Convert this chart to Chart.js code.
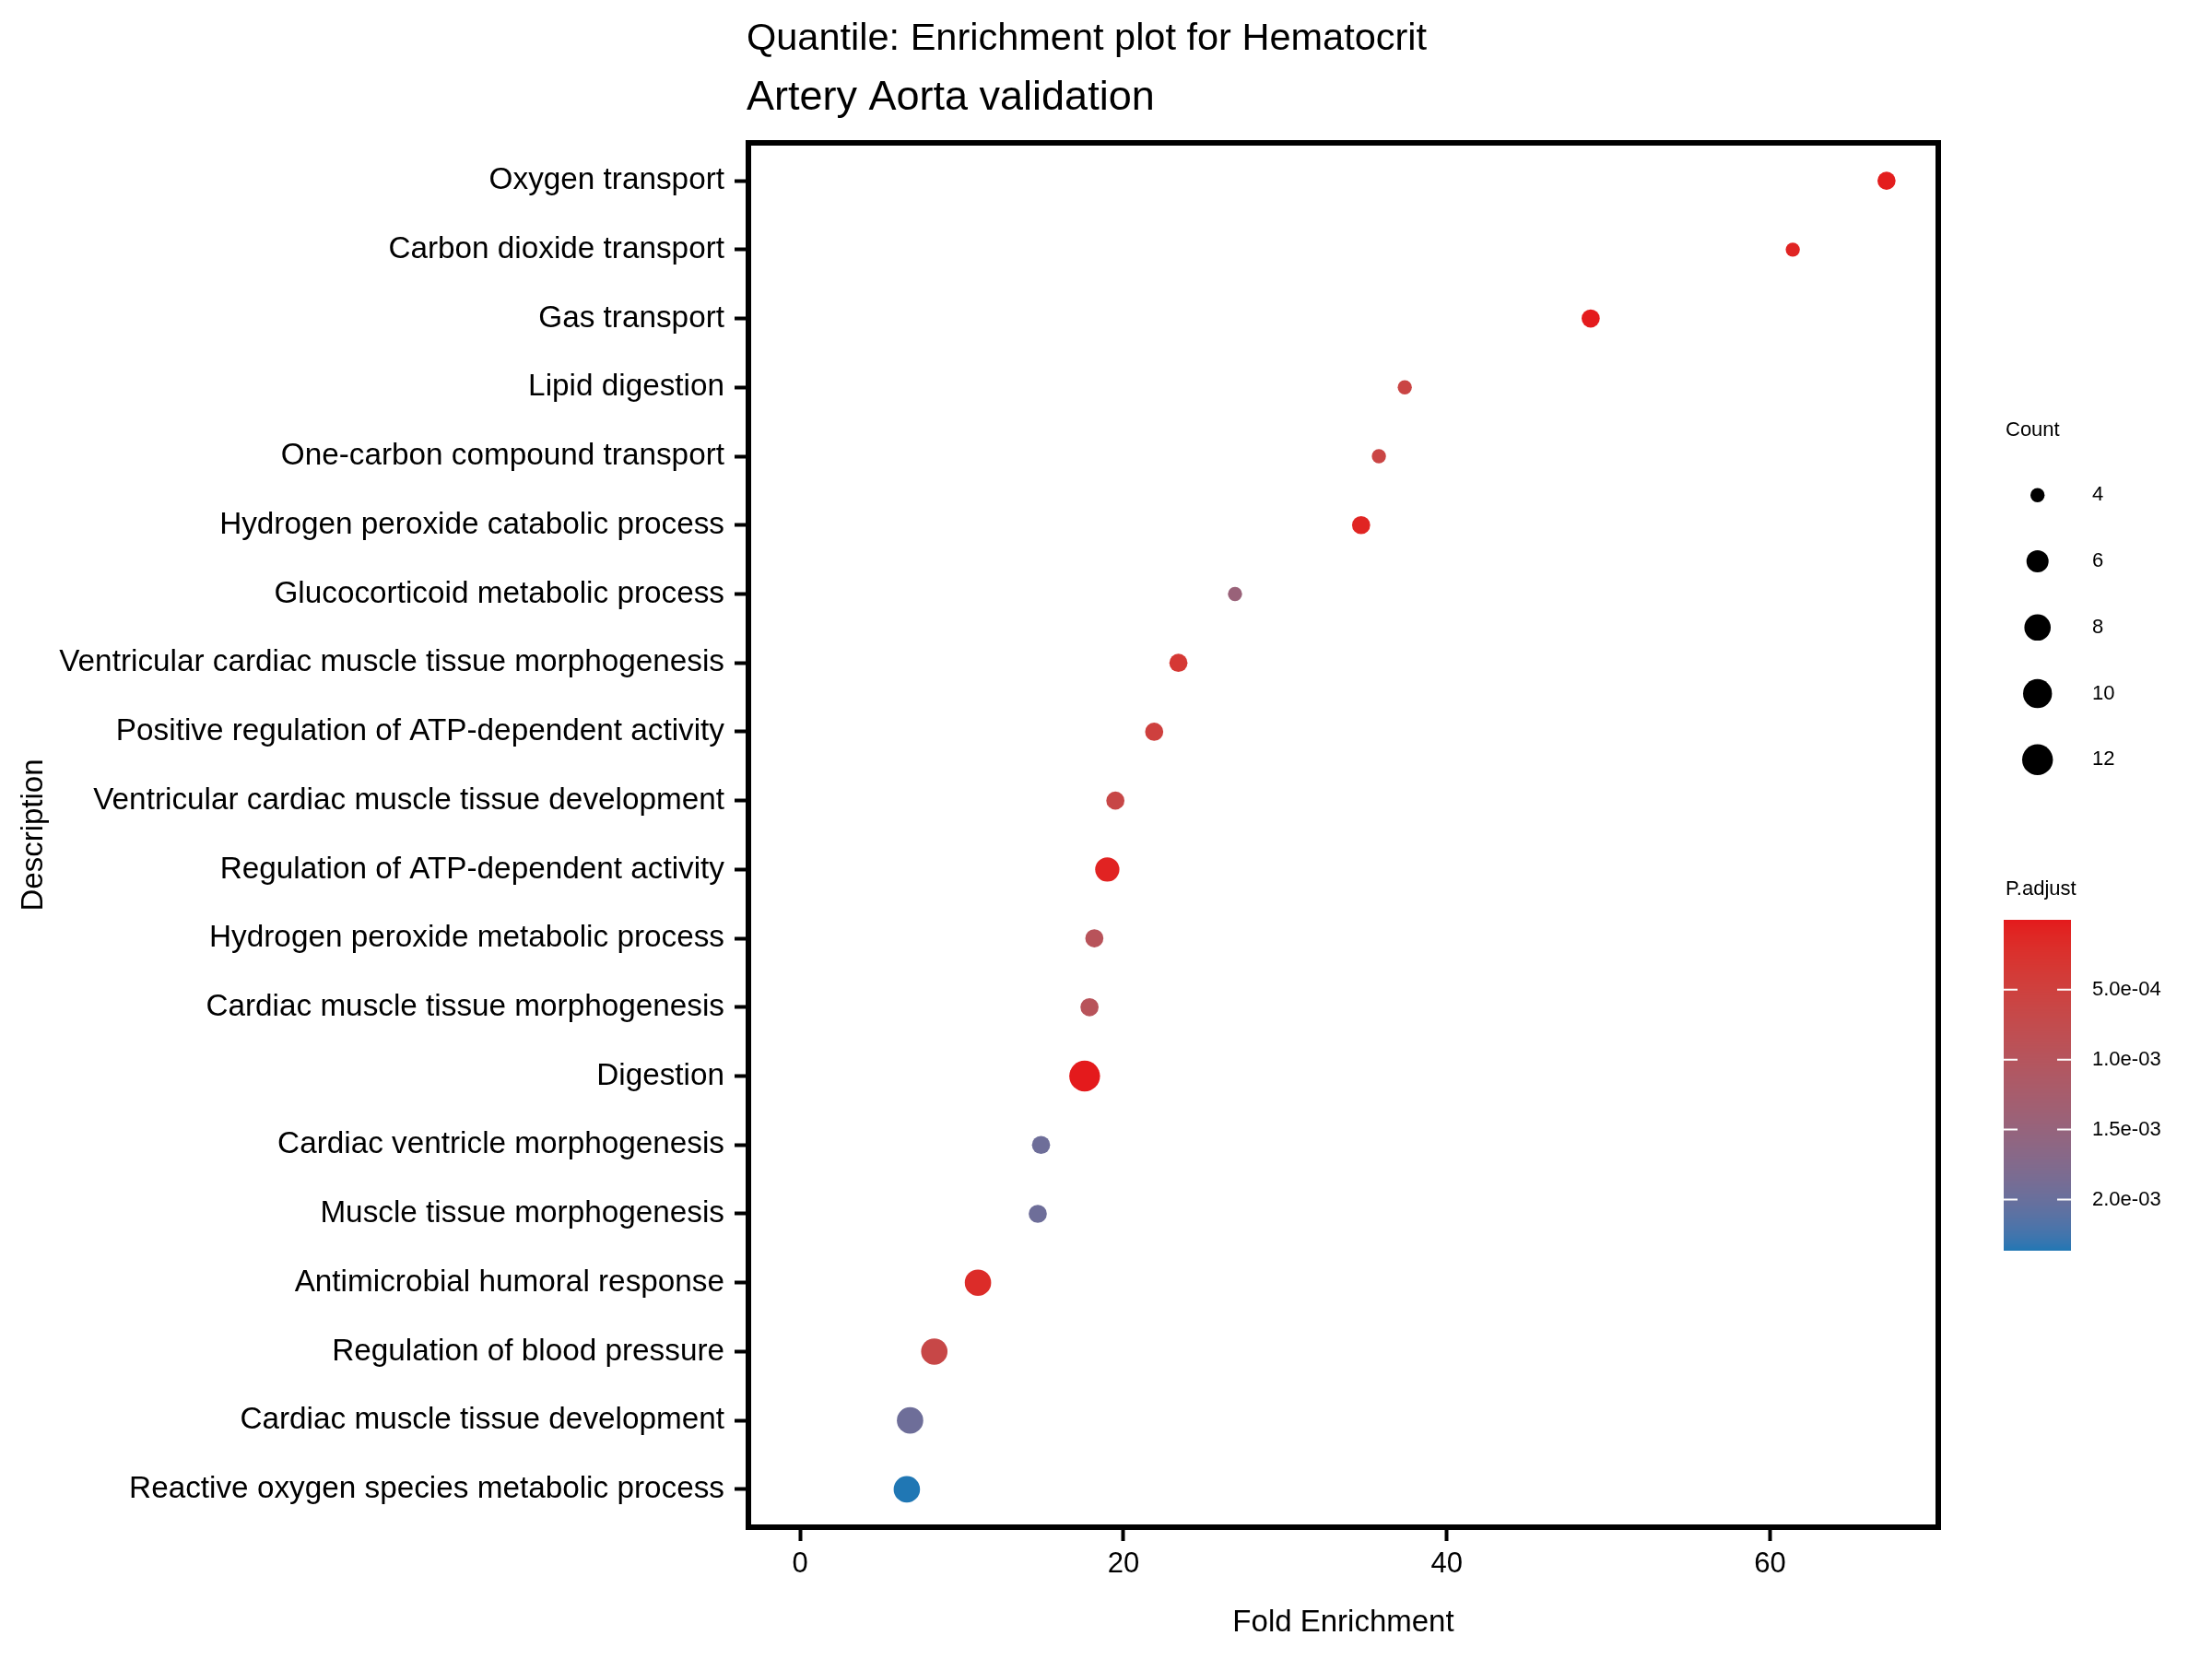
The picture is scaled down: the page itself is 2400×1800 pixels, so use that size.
<!DOCTYPE html>
<html>
<head>
<meta charset="utf-8">
<script src="https://cdn.jsdelivr.net/npm/chart.js@4.4.1/dist/chart.umd.min.js"></script>
<style>
  html, body { margin: 0; padding: 0; background: #fff; }
  #wrap { width: 2400px; height: 1800px; }
</style>
</head>
<body>
<div id="wrap"><canvas id="plot" width="2400" height="1800"></canvas></div>
<script>
// enrichment terms, top to bottom
const descriptions = [
    "Oxygen transport",
    "Carbon dioxide transport",
    "Gas transport",
    "Lipid digestion",
    "One-carbon compound transport",
    "Hydrogen peroxide catabolic process",
    "Glucocorticoid metabolic process",
    "Ventricular cardiac muscle tissue morphogenesis",
    "Positive regulation of ATP-dependent activity",
    "Ventricular cardiac muscle tissue development",
    "Regulation of ATP-dependent activity",
    "Hydrogen peroxide metabolic process",
    "Cardiac muscle tissue morphogenesis",
    "Digestion",
    "Cardiac ventricle morphogenesis",
    "Muscle tissue morphogenesis",
    "Antimicrobial humoral response",
    "Regulation of blood pressure",
    "Cardiac muscle tissue development",
    "Reactive oxygen species metabolic process"
];
const foldEnrichment = [67.2, 61.4, 48.9, 37.4, 35.8, 34.7, 26.9, 23.4, 21.9, 19.5,
                        19.0, 18.2, 17.9, 17.6, 14.9, 14.7, 11.0, 8.3, 6.8, 6.6];
const geneCount = [5, 4, 5, 4, 4, 5, 4, 5, 5, 5, 7, 5, 5, 12, 5, 5, 8, 8, 8, 8];
const pAdjust = [3e-5, 9e-5, 1e-5, 6e-4, 6e-4, 1e-4, 1.45e-3, 3.5e-4, 5e-4, 6.5e-4,
                 8e-5, 9.5e-4, 9.5e-4, 1e-6, 1.95e-3, 1.95e-3, 1.8e-4, 6.5e-4, 1.95e-3, 2.366e-3];

const xTicks = [0, 20, 40, 60];
const countBreaks = [4, 6, 8, 10, 12];
const pBreaks = [5e-4, 1e-3, 1.5e-3, 2e-3];

// style
const FONT = "'Liberation Sans', Arial, Helvetica, sans-serif";
const LOW_COLOR = '#e41a1c';   // small p.adjust
const HIGH_COLOR = '#2077b4';  // large p.adjust
const sizeRadius = [7.7, 12, 14.3, 15.7, 16.7]; // radius for each count break

// --- colour helpers (ggplot mixes gradient in Lab) ---
function hexToRgb(hex) {
    const n = parseInt(hex.slice(1), 16);
    return [(n >> 16) & 255, (n >> 8) & 255, n & 255];
}
function toLin(c) { c /= 255; return c <= 0.04045 ? c / 12.92 : Math.pow((c + 0.055) / 1.055, 2.4); }
function fromLin(c) { c = c <= 0.0031308 ? 12.92 * c : 1.055 * Math.pow(c, 1 / 2.4) - 0.055; return Math.max(0, Math.min(255, Math.round(c * 255))); }
function rgbToLab(rgb) {
    const [r, g, b] = rgb.map(toLin);
    let x = (r * 0.4124 + g * 0.3576 + b * 0.1805) / 0.95047;
    let y = (r * 0.2126 + g * 0.7152 + b * 0.0722);
    let z = (r * 0.0193 + g * 0.1192 + b * 0.9505) / 1.08883;
    const f = t => t > 0.008856 ? Math.cbrt(t) : 7.787 * t + 16 / 116;
    x = f(x); y = f(y); z = f(z);
    return [116 * y - 16, 500 * (x - y), 200 * (y - z)];
}
function labToRgb(lab) {
    const fy = (lab[0] + 16) / 116, fx = fy + lab[1] / 500, fz = fy - lab[2] / 200;
    const fi = t => t * t * t > 0.008856 ? t * t * t : (t - 16 / 116) / 7.787;
    const x = fi(fx) * 0.95047, y = fi(fy), z = fi(fz) * 1.08883;
    const r = x * 3.2406 + y * -1.5372 + z * -0.4986;
    const g = x * -0.9689 + y * 1.8758 + z * 0.0415;
    const b = x * 0.0557 + y * -0.2040 + z * 1.0570;
    return [fromLin(r), fromLin(g), fromLin(b)];
}
const labLow = rgbToLab(hexToRgb(LOW_COLOR));
const labHigh = rgbToLab(hexToRgb(HIGH_COLOR));
const pMin = Math.min(...pAdjust);
const pMax = Math.max(...pAdjust);

function colorFor(p) {
    const t = Math.max(0, Math.min(1, (p - pMin) / (pMax - pMin)));
    const lab = labLow.map((v, i) => v + (labHigh[i] - v) * t);
    const [r, g, b] = labToRgb(lab);
    return `rgb(${r},${g},${b})`;
}

function radiusFor(count) {
    if (count <= countBreaks[0]) return sizeRadius[0];
    for (let i = 1; i < countBreaks.length; i++) {
        if (count <= countBreaks[i]) {
            const t = (count - countBreaks[i - 1]) / (countBreaks[i] - countBreaks[i - 1]);
            return sizeRadius[i - 1] + t * (sizeRadius[i] - sizeRadius[i - 1]);
        }
    }
    return sizeRadius[sizeRadius.length - 1];
}

function sciLabel(v) {
    const [m, e] = v.toExponential(1).split('e');
    const ex = parseInt(e, 10);
    const sign = ex < 0 ? '-' : '+';
    return m + 'e' + sign + String(Math.abs(ex)).padStart(2, '0');
}

const points = descriptions.map((d, i) => ({ x: foldEnrichment[i], y: i }));
const radii = geneCount.map(radiusFor);
const colors = pAdjust.map(colorFor);

// panel frame + titles + legends
const decorPlugin = {
    id: 'decor',
    afterDatasetsDraw(chart) {
        const { ctx, chartArea: a } = chart;
        ctx.save();
        ctx.strokeStyle = '#000';
        ctx.lineWidth = 6;
        ctx.strokeRect(a.left, a.top, a.right - a.left, a.bottom - a.top);
        ctx.restore();
    },
    afterDraw(chart) {
        const ctx = chart.ctx;
        ctx.save();
        ctx.fillStyle = '#000';
        ctx.textAlign = 'left';
        ctx.textBaseline = 'alphabetic';
        ctx.font = `41.5px ${FONT}`;
        ctx.fillText('Quantile: Enrichment plot for Hematocrit', 810, 54);
        ctx.font = `45px ${FONT}`;
        ctx.fillText('Artery Aorta validation', 810, 119);

        // size legend
        ctx.textBaseline = 'middle';
        ctx.font = `22px ${FONT}`;
        ctx.fillText('Count', 2176, 467);
        countBreaks.forEach((c, i) => {
            const y = 537.3 + i * 71.75;
            ctx.beginPath();
            ctx.arc(2210.7, y, radiusFor(c), 0, Math.PI * 2);
            ctx.fillStyle = '#000';
            ctx.fill();
            ctx.fillText(String(c), 2270, y);
        });

        // colour bar
        ctx.fillText('P.adjust', 2176, 965);
        const barL = 2174, barR = 2247, barT = 998, barB = 1357;
        for (let y = barT; y < barB; y++) {
            const p = pMin + (y + 0.5 - barT) / (barB - barT) * (pMax - pMin);
            ctx.fillStyle = colorFor(p);
            ctx.fillRect(barL, y, barR - barL, 1);
        }
        pBreaks.forEach(p => {
            const y = barT + (p - pMin) / (pMax - pMin) * (barB - barT);
            ctx.strokeStyle = '#fff';
            ctx.lineWidth = 2;
            ctx.beginPath();
            ctx.moveTo(barL, y); ctx.lineTo(barL + 15, y);
            ctx.moveTo(barR - 15, y); ctx.lineTo(barR, y);
            ctx.stroke();
            ctx.fillStyle = '#000';
            ctx.fillText(sciLabel(p), 2270, y);
        });
        ctx.restore();
    }
};

const axisGrid = { drawOnChartArea: false, drawTicks: true, tickLength: 15, tickWidth: 4, tickColor: '#000' };

new Chart(document.getElementById('plot').getContext('2d'), {
    type: 'scatter',
    data: {
        datasets: [{
            data: points,
            pointRadius: radii,
            pointHoverRadius: radii,
            backgroundColor: colors,
            borderWidth: 0
        }]
    },
    options: {
        responsive: false,
        devicePixelRatio: 1,
        animation: false,
        layout: { padding: { left: 0, right: 297, top: 155, bottom: 0 } },
        plugins: { legend: { display: false }, tooltip: { enabled: false } },
        scales: {
            x: {
                type: 'linear', min: -3.2, max: 70.4,
                afterFit: s => { s.height = 143; },
                afterBuildTicks: s => { s.ticks = xTicks.map(v => ({ value: v })); },
                grid: axisGrid,
                border: { display: false },
                ticks: { color: '#000', font: { family: FONT, size: 31 }, padding: 7, maxRotation: 0, autoSkip: false },
                title: { display: true, text: 'Fold Enrichment', color: '#000', font: { family: FONT, size: 33 }, padding: { top: 0, bottom: 19 } }
            },
            y: {
                type: 'linear', reverse: true, min: -0.55, max: 19.55,
                afterFit: s => { s.width = 812; },
                afterBuildTicks: s => { s.ticks = descriptions.map((d, i) => ({ value: i })); },
                grid: axisGrid,
                border: { display: false },
                ticks: { color: '#000', font: { family: FONT, size: 33.3 }, padding: 11, autoSkip: false,
                         callback: v => descriptions[v] },
                title: { display: true, text: 'Description', color: '#000', font: { family: FONT, size: 33 }, padding: { top: 17, bottom: 0 } }
            }
        }
    },
    plugins: [decorPlugin]
});
</script>
</body>
</html>
